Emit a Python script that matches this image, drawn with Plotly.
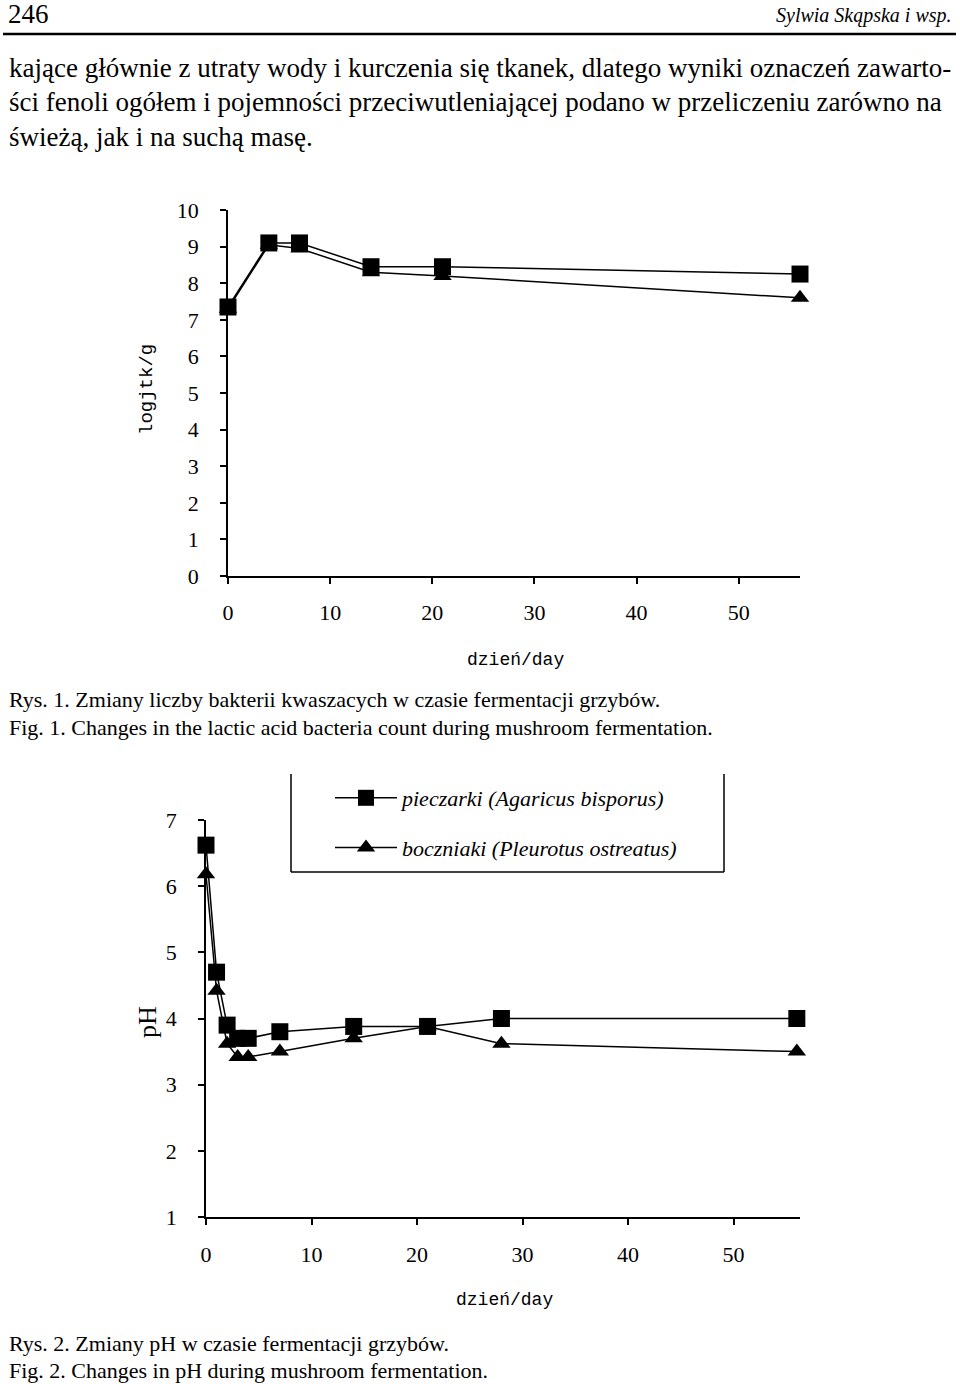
import plotly.graph_objects as go

W, H = 960, 1384

# ---------- data ----------
days1 = [0, 4, 7, 14, 21, 56]
lab_pieczarki = [7.35, 9.1, 9.1, 8.45, 8.45, 8.25]
lab_boczniaki = [7.3, 9.05, 8.95, 8.3, 8.2, 7.6]

days2 = [0, 1, 2, 3, 4, 7, 14, 21, 28, 56]
ph_pieczarki = [6.62, 4.7, 3.9, 3.7, 3.7, 3.8, 3.88, 3.88, 4.0, 4.0]
ph_boczniaki = [6.18, 4.42, 3.62, 3.42, 3.42, 3.5, 3.7, 3.88, 3.62, 3.5]

series_names = ["pieczarki (Agaricus bisporus)", "boczniaki (Pleurotus ostreatus)"]
x_ticks = [0, 10, 20, 30, 40, 50]
y1_ticks = list(range(0, 11))
y2_ticks = list(range(1, 8))

body_lines = [
    "kające głównie z utraty wody i kurczenia się tkanek, dlatego wyniki oznaczeń zawarto-",
    "ści fenoli ogółem i pojemności przeciwutleniającej podano w przeliczeniu zarówno na",
    "świeżą, jak i na suchą masę.",
]
captions1 = [
    "Rys. 1. Zmiany liczby bakterii kwaszacych w czasie fermentacji grzybów.",
    "Fig. 1. Changes in the lactic acid bacteria count during mushroom fermentation.",
]
captions2 = [
    "Rys. 2. Zmiany pH w czasie fermentacji grzybów.",
    "Fig. 2. Changes in pH during mushroom fermentation.",
]


def px(x):
    return x / W


def py(y):
    return 1 - y / H


SERIF = "Liberation Serif"
MONO = "Liberation Mono"

fig = go.Figure()

# chart 1
fig.add_trace(go.Scatter(x=days1, y=lab_boczniaki, mode="lines+markers", xaxis="x", yaxis="y",
                         line=dict(color="black", width=1.5), showlegend=False, cliponaxis=False,
                         marker=dict(symbol="triangle-up", size=16, color="black")))
fig.add_trace(go.Scatter(x=days1, y=lab_pieczarki, mode="lines+markers", xaxis="x", yaxis="y",
                         line=dict(color="black", width=1.5), showlegend=False, cliponaxis=False,
                         marker=dict(symbol="square", size=17, color="black")))
# chart 2
fig.add_trace(go.Scatter(x=days2, y=ph_pieczarki, mode="lines+markers", xaxis="x2", yaxis="y2",
                         name=series_names[0], legendgroup="a",
                         line=dict(color="black", width=1.5), cliponaxis=False,
                         marker=dict(symbol="square", size=17, color="black")))
fig.add_trace(go.Scatter(x=days2, y=ph_boczniaki, mode="lines+markers", xaxis="x2", yaxis="y2",
                         name=series_names[1], legendgroup="b",
                         line=dict(color="black", width=1.5), cliponaxis=False,
                         marker=dict(symbol="triangle-up", size=16, color="black")))

axis_common = dict(showgrid=False, zeroline=False, showline=True, linecolor="black", linewidth=1.5,
                   ticks="outside", ticklen=6, tickwidth=1.5, tickcolor="black",
                   tickfont=dict(family=SERIF, size=22, color="black"))

fig.update_layout(
    width=W, height=H, autosize=False,
    margin=dict(l=0, r=0, t=0, b=0, autoexpand=False),
    paper_bgcolor="white", plot_bgcolor="white",
    xaxis=dict(domain=[px(228), px(800)], range=[0, 56], tickvals=x_ticks, anchor="y",
               ticklabelstandoff=10, **axis_common),
    yaxis=dict(domain=[py(576), py(210)], range=[0, 10], tickvals=y1_ticks, anchor="x",
               ticklabelstandoff=17, **axis_common),
    xaxis2=dict(domain=[px(206), px(800)], range=[0, 56.3], tickvals=x_ticks, anchor="y2",
                ticklabelstandoff=11, **axis_common),
    yaxis2=dict(domain=[py(1217), py(820)], range=[1, 7], tickvals=y2_ticks, anchor="x2",
                ticklabelstandoff=17, **axis_common),
    showlegend=True,
    legend=dict(x=px(330), y=py(777), xanchor="left", yanchor="top", bgcolor="rgba(0,0,0,0)",
                font=dict(family=SERIF, size=22, color="black", style="italic"),
                tracegroupgap=18, itemwidth=62),
)

ann = []
# page header
ann.append(dict(text="246", x=px(6), y=py(14), xanchor="left", yanchor="middle",
                font=dict(family=SERIF, size=27, color="black")))
ann.append(dict(text="Sylwia Skąpska i wsp.", x=px(954), y=py(16), xanchor="right", yanchor="middle",
                font=dict(family=SERIF, size=20, color="black", style="italic")))
for i, line in enumerate(body_lines):
    ann.append(dict(text=line, x=px(7), y=py(68 + i * 34.5), xanchor="left", yanchor="middle",
                    font=dict(family=SERIF, size=27, color="black")))
# chart 1 titles
ann.append(dict(text="logjtk/g", x=px(147), y=py(390), xanchor="center", yanchor="middle", textangle=-90,
                font=dict(family=MONO, size=19, color="black")))
ann.append(dict(text="dzień/day", x=px(515), y=py(660), xanchor="center", yanchor="middle",
                font=dict(family=MONO, size=18, color="black")))
for i, line in enumerate(captions1):
    ann.append(dict(text=line, x=px(7), y=py(699 + i * 28), xanchor="left", yanchor="middle",
                    font=dict(family=SERIF, size=22, color="black")))
# chart 2 titles
ann.append(dict(text="pH", x=px(147), y=py(1022), xanchor="center", yanchor="middle", textangle=-90,
                font=dict(family=SERIF, size=26, color="black")))
ann.append(dict(text="dzień/day", x=px(505), y=py(1300), xanchor="center", yanchor="middle",
                font=dict(family=MONO, size=18, color="black")))
for i, line in enumerate(captions2):
    ann.append(dict(text=line, x=px(7), y=py(1343 + i * 27), xanchor="left", yanchor="middle",
                    font=dict(family=SERIF, size=22, color="black")))

for a in ann:
    a.update(xref="paper", yref="paper", showarrow=False)
fig.update_layout(annotations=ann)

shapes = [
    dict(type="line", x0=px(3), x1=px(956), y0=py(34), y1=py(34), line=dict(color="black", width=2.5)),
    # legend box (open top)
    dict(type="line", x0=px(291), x1=px(291), y0=py(774), y1=py(872), line=dict(color="black", width=1.5)),
    dict(type="line", x0=px(291), x1=px(724), y0=py(872), y1=py(872), line=dict(color="black", width=1.5)),
    dict(type="line", x0=px(724), x1=px(724), y0=py(774), y1=py(872), line=dict(color="black", width=1.5)),
]
for s in shapes:
    s.update(xref="paper", yref="paper")
fig.update_layout(shapes=shapes)

# remove the browser's default 8px body margin so the page starts at the top-left corner
fig.write_html("out.html", config={"displayModeBar": False},
               post_script="document.body.style.margin='0px';")
